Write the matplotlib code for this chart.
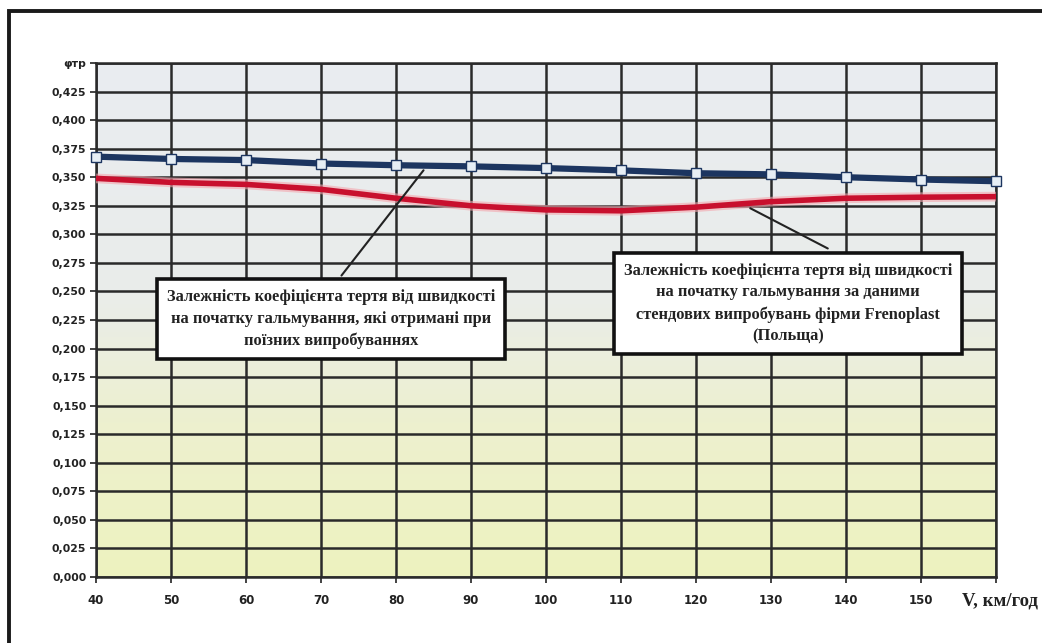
import numpy as np
import matplotlib
matplotlib.use("Agg")
import matplotlib.pyplot as plt
from matplotlib.colors import LinearSegmentedColormap
from matplotlib.patches import Rectangle

# ---- data ----
speed = [40, 50, 60, 70, 80, 90, 100, 110, 120, 130, 140, 150, 160]
mu_train = [0.368, 0.366, 0.365, 0.362, 0.3605, 0.3595, 0.358, 0.356, 0.3535, 0.3525, 0.350, 0.348, 0.3465]
mu_bench = [0.349, 0.3455, 0.3437, 0.3394, 0.3316, 0.325, 0.3214, 0.3206, 0.3238, 0.3286, 0.3316, 0.3325, 0.333]
x_tick_vals = [40, 50, 60, 70, 80, 90, 100, 110, 120, 130, 140, 150, 160]
x_tick_labels = ["40", "50", "60", "70", "80", "90", "100", "110", "120", "130", "140", "150", ""]
x_axis_label = "V, км/год"
y_tick_vals = [0.000, 0.025, 0.050, 0.075, 0.100, 0.125, 0.150, 0.175, 0.200, 0.225,
               0.250, 0.275, 0.300, 0.325, 0.350, 0.375, 0.400, 0.425, 0.450]
y_tick_labels = ["0,000", "0,025", "0,050", "0,075", "0,100", "0,125", "0,150", "0,175", "0,200",
                 "0,225", "0,250", "0,275", "0,300", "0,325", "0,350", "0,375", "0,400", "0,425", "φтр"]
label_train = "Залежність коефіцієнта тертя від швидкості\nна початку гальмування, які отримані при\nпоїзних випробуваннях"
label_bench = "Залежність коефіцієнта тертя від швидкості\nна початку гальмування за даними\nстендових випробувань фірми Frenoplast\n(Польща)"

fig = plt.figure(figsize=(10.42, 6.43), dpi=100)
fig.patch.set_facecolor("white")
ax = fig.add_axes([96/1042, 1-577/643, 900/1042, 514/643])

# outer frame of the scanned figure
fig.patches.append(Rectangle((9/1042, -0.05), 1.1, 1-11/643+0.05, transform=fig.transFigure,
                             fill=False, edgecolor="#1a1a1a", linewidth=2.8, zorder=0))

# background gradient (gray-blue top -> yellow-green bottom)
cmap = LinearSegmentedColormap.from_list("bg", [(0.0, "#eef3bf"), (0.3, "#edf0cf"),
                                                 (0.55, "#eaedea"), (1.0, "#e9ecf1")])
grad = np.linspace(0, 1, 256).reshape(-1, 1)
ax.imshow(grad, extent=[40, 160, 0, 0.45], origin="lower", aspect="auto", cmap=cmap, zorder=0)

ax.set_xlim(40, 160)
ax.set_ylim(0, 0.45)
ax.set_xticks(x_tick_vals)
ax.set_yticks(y_tick_vals)
ax.set_xticklabels(x_tick_labels, fontsize=8.5, fontweight="bold", color="#222222")
ax.set_yticklabels(y_tick_labels, fontsize=7.8, fontweight="bold", color="#222222")
ax.tick_params(axis="x", pad=8, length=4, width=1.2, colors="#222222")
ax.tick_params(axis="y", pad=3, length=4, width=1.2, colors="#222222")
fig.text(962/1042, 1-601/643, x_axis_label, ha="left", va="center", fontsize=13.5,
         fontweight="bold", family="Liberation Serif", color="#222222")

ax.grid(True, color="#2a2a2a", linewidth=1.8, zorder=1)
for s in ax.spines.values():
    s.set_color("#2a2a2a")
    s.set_linewidth(1.8)

# lines
ax.plot(speed, mu_bench, color="#f4a6ae", linewidth=7, solid_capstyle="butt", zorder=3, alpha=0.6)
ax.plot(speed, mu_bench, color="#c8102e", linewidth=4.0, solid_capstyle="butt", zorder=4)
ax.plot(speed, mu_train, color="#1c3560", linewidth=4.5, solid_capstyle="butt", zorder=5,
        marker="s", markersize=7, markerfacecolor="#e6eef5", markeredgecolor="#1c3560",
        markeredgewidth=1.0, clip_on=False)

# annotations
bbox = dict(boxstyle="square,pad=0.6", facecolor="white", edgecolor="#111111", linewidth=2.6)
ax.annotate("", xy=(83.9, 0.358), xytext=(72.5, 0.262),
            arrowprops=dict(arrowstyle="-", color="#222222", lw=1.5), zorder=6)
ax.annotate("", xy=(126.9, 0.324), xytext=(137.9, 0.2865),
            arrowprops=dict(arrowstyle="-", color="#222222", lw=1.5), zorder=6)
ax.text(0.261, 0.502, label_train, transform=ax.transAxes, ha="center", va="center",
        fontsize=11.8, fontweight="bold", family="Liberation Serif", linespacing=1.45,
        color="#222222", bbox=bbox, zorder=7)
ax.text(0.769, 0.532, label_bench, transform=ax.transAxes, ha="center", va="center",
        fontsize=11.8, fontweight="bold", family="Liberation Serif", linespacing=1.45,
        color="#222222", bbox=bbox, zorder=7)

fig.savefig("out.png", dpi=100)
